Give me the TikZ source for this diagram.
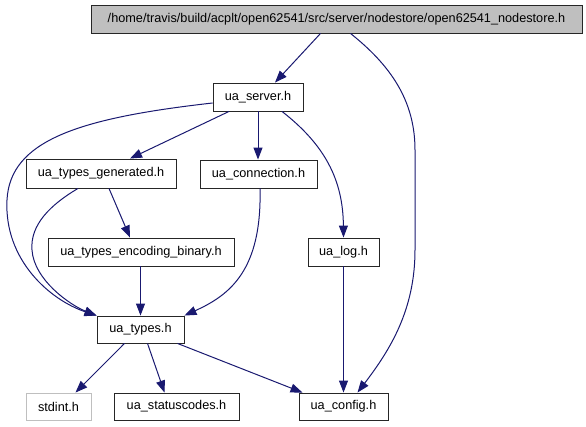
\documentclass[tikz,border=0pt]{standalone}
\usepackage{fontspec}
\setmainfont{Liberation Sans}
\usetikzlibrary{arrows.meta}
\definecolor{edgec}{HTML}{191970}
\definecolor{grayfill}{HTML}{BFBFBF}
\tikzset{
  box/.style={draw=black!85, line width=0.9pt, rectangle, inner sep=0pt, anchor=center, font=\fontsize{12.7}{15}\selectfont},
  edge/.style={draw=edgec, line width=1pt, -{Triangle[length=12pt,width=9pt]}},
}
\begin{document}
\begin{tikzpicture}[x=1pt,y=-1pt]
\useasboundingbox (0,0) rectangle (586,427);
\node[box, fill=grayfill, minimum width=491pt, minimum height=28pt] (top) at (336.5,19) {/home/travis/build/acplt/open62541/src/server/nodestore/open62541\_nodestore.h};
\node[box, minimum width=90pt, minimum height=28pt] (srv) at (258,97) {ua\_server.h};
\node[box, minimum width=150pt, minimum height=29pt] (gen) at (101,173.5) {ua\_types\_generated.h};
\node[box, minimum width=117pt, minimum height=28pt] (conn) at (258.5,174) {ua\_connection.h};
\node[box, minimum width=71pt, minimum height=28pt] (log) at (343.5,252) {ua\_log.h};
\node[box, minimum width=186pt, minimum height=28pt] (enc) at (141,252) {ua\_types\_encoding\_binary.h};
\node[box, minimum width=87pt, minimum height=27pt] (types) at (140.5,329.5) {ua\_types.h};
\node[box, draw=grayfill, minimum width=65pt, minimum height=27pt] (stdint) at (58.5,406.5) {stdint.h};
\node[box, minimum width=125pt, minimum height=27pt] (status) at (176.5,406.5) {ua\_statuscodes.h};
\node[box, minimum width=89pt, minimum height=27pt] (cfg) at (343.5,406.5) {ua\_config.h};

\draw[edge] ([xshift=-16pt]top.south) -- ([xshift=17pt]srv.north);
\draw[edge] ([xshift=14pt]top.south) .. controls (390,65) and (415,100) .. (415,150) -- (415,250) .. controls (415,310) and (390,350) .. ([xshift=14pt]cfg.north);
\draw[edge] ([xshift=-29pt]srv.south) -- ([xshift=29pt]gen.north);
\draw[edge] (srv.south) -- (conn.north -| srv.south);
\draw[edge] ([xshift=24pt]srv.south) .. controls (325,145) and (343,180) .. (log.north);
\draw[edge] ([yshift=-6pt]srv.west) .. controls (80,118) and (10,140) .. (7,200) .. controls (4,260) and (50,300) .. (types.north west);
\draw[edge] ([xshift=-23pt]gen.south) .. controls (50,205) and (30,225) .. (32,250) .. controls (34,280) and (70,305) .. (types.north west);
\draw[edge] ([xshift=8pt]gen.south) -- ([xshift=-11pt]enc.north);
\draw[edge] (enc.south -| types.north) -- (types.north);
\draw[edge] ([xshift=1.5pt]conn.south) .. controls (262,270) and (230,295) .. (types.north east);
\draw[edge] (log.south) -- (cfg.north);
\draw[edge] ([xshift=-16pt]types.south) -- ([xshift=17pt]stdint.north);
\draw[edge] ([xshift=7pt]types.south) -- ([xshift=-12pt]status.north);
\draw[edge] ([xshift=37pt]types.south) -- ([xshift=-41pt]cfg.north);
\end{tikzpicture}
\end{document}
